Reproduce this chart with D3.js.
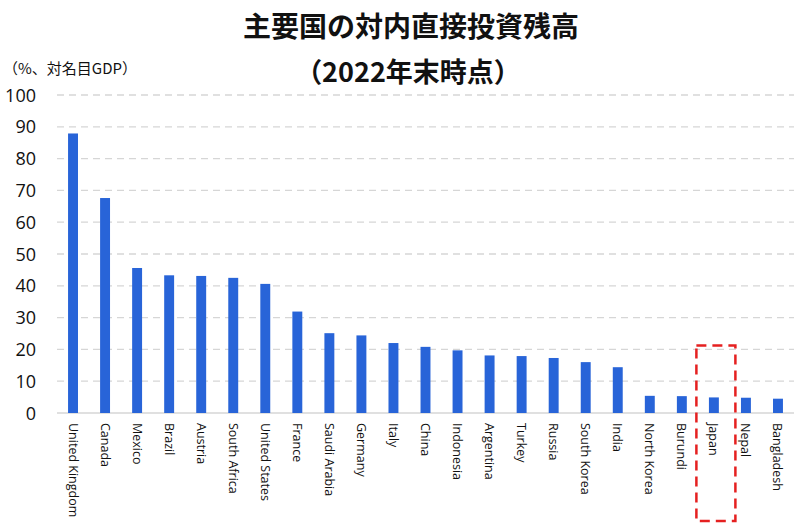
<!DOCTYPE html>
<html><head><meta charset="utf-8">
<script src="https://cdn.jsdelivr.net/npm/d3@7"></script>
<style>html,body{margin:0;padding:0;background:#fff;}svg{display:block;}</style>
</head><body>
<svg id="chart" width="800" height="531"></svg>
<script>
const categories = ["United Kingdom","Canada","Mexico","Brazil","Austria","South Africa","United States","France","Saudi Arabia","Germany","Italy","China","Indonesia","Argentina","Turkey","Russia","South Korea","India","North Korea","Burundi","Japan","Nepal","Bangladesh"];
const values = [87.9,67.6,45.6,43.3,43.1,42.5,40.6,31.9,25.1,24.4,22.0,20.8,19.7,18.1,17.9,17.3,16.0,14.4,5.4,5.3,4.9,4.8,4.5];
const yTicks = [0,10,20,30,40,50,60,70,80,90,100];
const titleLines = ["主要国の対内直接投資残高","（2022年末時点）"];
const yLabel = "（%、対名目GDP）";
const highlight = "Japan";
const highlightTop = 21.2;

const svg = d3.select("#chart");
const W = 800, H = 531;
const m = {left:57, right:6, top:95, bottom:118};
const x = d3.scaleBand().domain(categories).range([m.left, W - m.right]).paddingInner(0.69).paddingOuter(0.345);
const y = d3.scaleLinear().domain([0,100]).range([H - m.bottom, m.top]);

const jp = "'Noto Sans CJK JP','Noto Sans',sans-serif";

// gridlines
svg.append("g").selectAll("line").data(yTicks.filter(d => d > 0)).join("line")
  .attr("x1", m.left).attr("x2", W - m.right)
  .attr("y1", d => y(d)).attr("y2", d => y(d))
  .attr("stroke", "#d6d6d6").attr("stroke-width", 1.3).attr("stroke-dasharray", "7,5");

// baseline
svg.append("line").attr("x1", m.left).attr("x2", W - m.right)
  .attr("y1", y(0)).attr("y2", y(0)).attr("stroke", "#d6d6d6").attr("stroke-width", 1.3);

// y axis
const yAxis = d3.axisLeft(y).tickValues(yTicks).tickSize(0).tickPadding(0);
const ya = svg.append("g").attr("transform", "translate(36,0)").call(yAxis);
ya.select(".domain").remove();
ya.selectAll("text").attr("font-family", "'Open Sans','Noto Sans',sans-serif").attr("font-size", 18).attr("fill", "#111").attr("dy", "0.34em");

// bars
svg.append("g").selectAll("rect").data(categories).join("rect")
  .attr("x", d => x(d)).attr("width", x.bandwidth())
  .attr("y", (d,i) => y(values[i])).attr("height", (d,i) => y(0) - y(values[i]))
  .attr("fill", "#2864d8");

// x axis labels
const xAxis = d3.axisBottom(x).tickSize(0).tickPadding(0);
const xa = svg.append("g").attr("transform", `translate(0,${y(0)})`).call(xAxis);
xa.select(".domain").remove();
xa.selectAll("text")
  .attr("font-family", "'Open Sans','Noto Sans',sans-serif").attr("font-size", 12.5).attr("fill", "#111")
  .attr("text-anchor", "start").attr("dy", null).attr("y", null)
  .attr("transform", "translate(-4.5,10) rotate(90)");

// highlight box
const cx = x(highlight) + x.bandwidth() / 2 + 2;
svg.append("rect")
  .attr("x", cx - 19.5).attr("width", 39)
  .attr("y", y(highlightTop)).attr("height", 521 - y(highlightTop))
  .attr("fill", "none").attr("stroke", "#e52020").attr("stroke-width", 2.5).attr("stroke-dasharray", "10,6");

// titles
svg.append("text").attr("x", 411).attr("y", 37).attr("text-anchor", "middle")
  .attr("font-family", jp).attr("font-weight", "bold").attr("font-size", 28).attr("fill", "#111")
  .text(titleLines[0]);
svg.append("text").attr("x", 408).attr("y", 82).attr("text-anchor", "middle")
  .attr("font-family", jp).attr("font-weight", "bold").attr("font-size", 27).attr("fill", "#111")
  .text(titleLines[1]);

// y label
svg.append("text").attr("x", 3).attr("y", 74)
  .attr("font-family", jp).attr("font-size", 15).attr("fill", "#111")
  .text(yLabel);
</script>
</body></html>
